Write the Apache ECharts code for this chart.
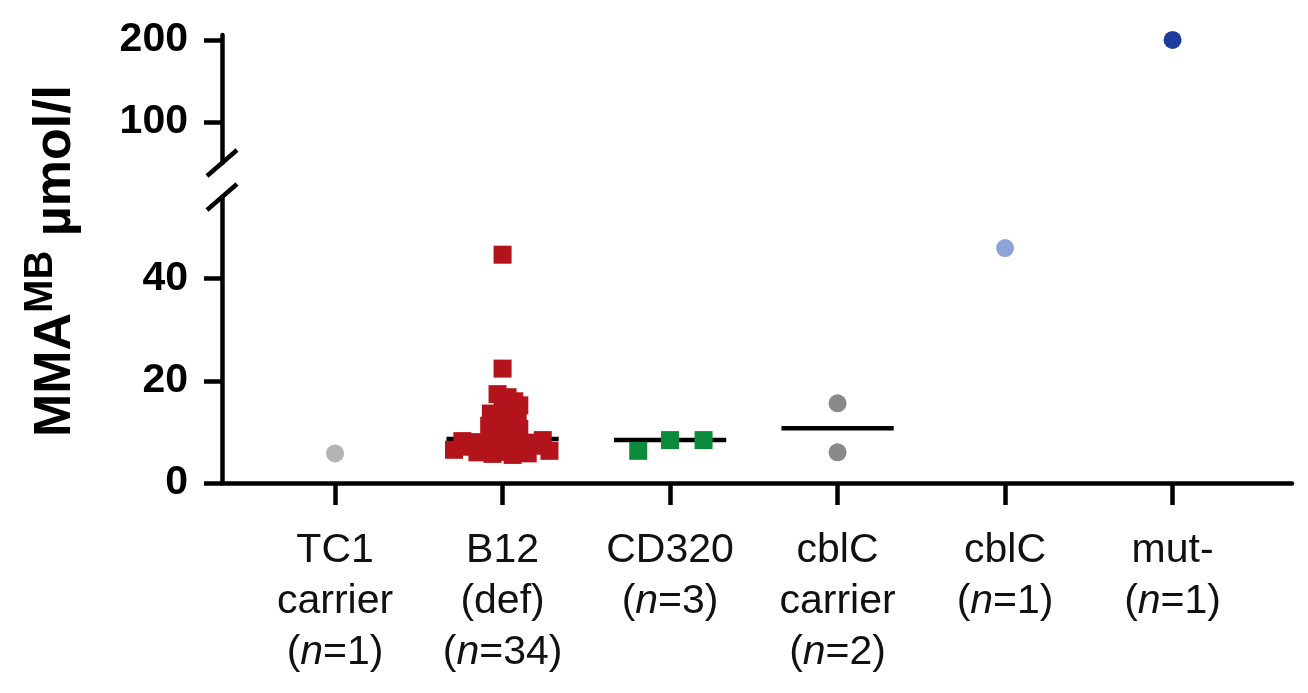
<!DOCTYPE html>
<html>
<head>
<meta charset="utf-8">
<script src="https://cdn.jsdelivr.net/npm/echarts@6/dist/echarts.min.js"></script>
<style>
  html, body { margin: 0; padding: 0; background: #fff; }
  #chart { width: 1308px; height: 693px; }
</style>
</head>
<body>
<div id="chart"></div>
<script>
// groups on the x axis
var categories = ['TC1\ncarrier', 'B12\n(def)', 'CD320', 'cblC\ncarrier', 'cblC', 'mut-'];
var groupN = [1, 34, 3, 2, 1, 1];

// MMA values (umol/l), with horizontal jitter per point
var tc1Values = [5.8];
var b12Values = [44.7, 22.4, 17.4, 16.8, 16.0, 15.2, 14.5, 13.6, 13.0, 12.4,
                 11.8, 11.2, 10.6, 10.0, 9.6, 9.2, 8.8,
                 8.4, 8.2, 8.0, 7.9, 7.7, 7.5, 7.3, 7.1, 6.9, 6.7,
                 6.5, 6.3, 6.1, 6.0, 5.8, 5.7, 5.5];
var b12Jitter = [0.0, 0.0, -0.03, 0.03, 0.07, 0.10, 0.0, -0.07, 0.09, -0.05,
                 0.05, -0.08, 0.10, 0.0, -0.07, 0.07, -0.02,
                 0.24, -0.24, -0.14, 0.14, 0.04, -0.04, 0.19, -0.19, 0.09, -0.10,
                 -0.29, 0.28, 0.0, -0.15, 0.15, -0.06, 0.06];
var cd320Values = [6.3, 8.4, 8.4];
var cd320Jitter = [-0.19, 0.0, 0.2];
var cblcCarrierValues = [15.6, 6.0];
var cblcValues = [46.0];
var mutValues = [200];
var medians = [null, 8.6, 8.4, 10.7, null, null];

// tick labels on the broken y axis
var lowerTicks = [0, 20, 40];
var upperTicks = [100, 200];

var FONT = 'Liberation Sans, Arial, Helvetica, sans-serif';

function points(groupIndex, values, jitter) {
    var pts = [];
    values.forEach(function(v, i) {
        var dx = jitter ? jitter[i] : 0;
        pts.push([groupIndex + 1 + dx, v]);
    });
    return pts;
}

function groupLabel(value) {
    var i = Math.round(value) - 1;
    return categories[i] + '\n({n|n}=' + groupN[i] + ')';
}

var chart = echarts.init(document.getElementById('chart'));

var axisLineStyle = { color: '#000', width: 4.5 };
var xMin = 0.325, xMax = 6.713;
var groupTicks = categories.map(function(c, i) { return i + 1; });

var series = [];

// median / mean bars
medians.forEach(function(m, i) {
    if (m === null) return;
    series.push({
        type: 'line',
        xAxisIndex: 0, yAxisIndex: 0,
        data: [[i + 1 - 0.335, m], [i + 1 + 0.335, m]],
        symbol: 'none',
        lineStyle: { color: '#000', width: 4.5 },
        z: 1,
        silent: true
    });
});

function scatter(data, color, symbol, axisIdx) {
    return {
        type: 'scatter',
        xAxisIndex: axisIdx, yAxisIndex: axisIdx,
        data: data,
        symbol: symbol,
        symbolSize: 18,
        itemStyle: { color: color, opacity: 1 },
        z: 3
    };
}

series.push(scatter(points(0, tc1Values), '#b3b3b3', 'circle', 0));
series.push(scatter(points(1, b12Values, b12Jitter), '#b3141c', 'rect', 0));
series.push(scatter(points(2, cd320Values, cd320Jitter), '#0b8a3c', 'rect', 0));
series.push(scatter(points(3, cblcCarrierValues), '#8a8a8a', 'circle', 0));
series.push(scatter(points(4, cblcValues), '#8ea3d8', 'circle', 0));
series.push(scatter(points(5, mutValues), '#1c3d9c', 'circle', 1));

var yLabel = { margin: 34, color: '#000', fontFamily: FONT, fontSize: 41, fontWeight: 'bold' };

var option = {
    backgroundColor: '#fff',
    animation: false,
    grid: [
        { left: 222, right: 16, top: 197, height: 286, outerBoundsMode: 'none' },
        { left: 222, right: 16, top: 35, height: 128, outerBoundsMode: 'none' }
    ],
    xAxis: [
        {
            type: 'value', gridIndex: 0, min: xMin, max: xMax,
            splitLine: { show: false },
            axisLine: { show: true, lineStyle: axisLineStyle },
            axisTick: { show: true, customValues: groupTicks, length: 22, lineStyle: axisLineStyle },
            axisLabel: {
                customValues: groupTicks,
                formatter: groupLabel,
                margin: 42,
                color: '#111',
                fontFamily: FONT,
                fontSize: 41,
                lineHeight: 51,
                align: 'center',
                verticalAlign: 'top',
                rich: {
                    n: { fontStyle: 'italic', fontFamily: FONT, fontSize: 41, lineHeight: 51, color: '#111' }
                }
            }
        },
        {
            type: 'value', gridIndex: 1, min: xMin, max: xMax,
            show: false
        }
    ],
    yAxis: [
        {
            type: 'value', gridIndex: 0, min: 0, max: 56,
            splitLine: { show: false },
            axisLine: { show: true, lineStyle: axisLineStyle },
            axisTick: { show: true, customValues: lowerTicks, length: 18, lineStyle: axisLineStyle },
            axisLabel: Object.assign({ customValues: lowerTicks }, yLabel)
        },
        {
            type: 'value', gridIndex: 1, min: 50, max: 206,
            splitLine: { show: false },
            axisLine: { show: true, lineStyle: axisLineStyle },
            axisTick: { show: true, customValues: upperTicks, length: 18, lineStyle: axisLineStyle },
            axisLabel: Object.assign({ customValues: upperTicks }, yLabel)
        }
    ],
    series: series
};

chart.setOption(option);

// axis break marks
var axisX = chart.convertToPixel({ xAxisIndex: 0 }, xMin);
var upperEnd = chart.convertToPixel({ yAxisIndex: 1 }, 50);
var lowerEnd = chart.convertToPixel({ yAxisIndex: 0 }, 56);

function slash(cy) {
    return {
        type: 'line',
        shape: { x1: axisX - 15, y1: cy + 13, x2: axisX + 15, y2: cy - 13 },
        style: { stroke: '#000', lineWidth: 4.5 },
        z: 10
    };
}

// y title "MMA^MB µmol/l", rotated, superscript as its own piece
var ctx = document.createElement('canvas').getContext('2d');
function textWidth(str, size) {
    ctx.font = 'bold ' + size + 'px ' + FONT;
    return ctx.measureText(str).width;
}
var titleParts = [
    { text: 'MMA', size: 52, x: 56 },
    { text: 'MB', size: 40, x: 41 },
    { text: ' \u00b5mol/l', size: 52, x: 56 }
];
var titleLength = 0;
titleParts.forEach(function(p) { p.w = textWidth(p.text, p.size); titleLength += p.w; });
var titleY = 261 + titleLength / 2;
var graphics = [slash(upperEnd), slash(lowerEnd)];
titleParts.forEach(function(p) {
    graphics.push({
        type: 'text',
        x: p.x,
        y: titleY,
        rotation: Math.PI / 2,
        style: {
            text: p.text,
            fontFamily: FONT,
            fontSize: p.size,
            fontWeight: 'bold',
            fill: '#000',
            align: 'left',
            verticalAlign: 'middle'
        }
    });
    titleY -= p.w;
});

chart.setOption({ graphic: graphics });
</script>
</body>
</html>
